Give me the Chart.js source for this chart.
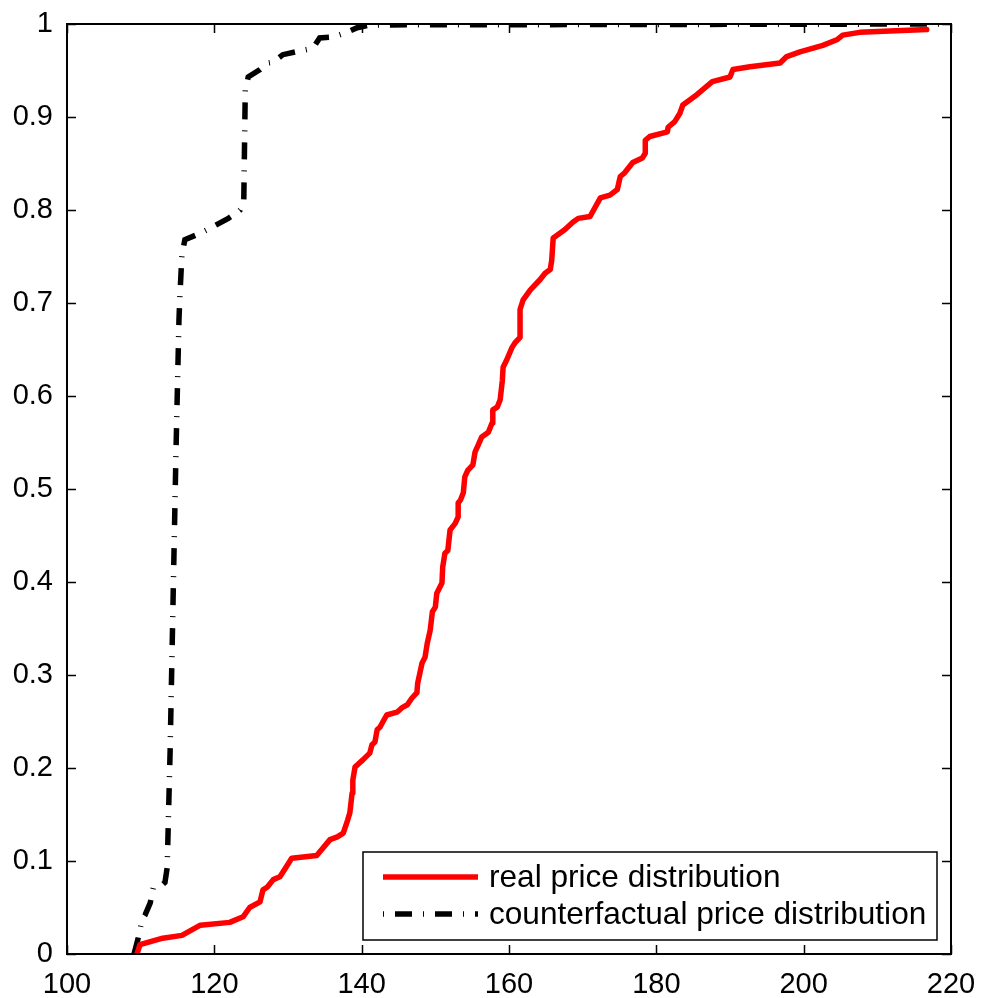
<!DOCTYPE html>
<html>
<head>
<meta charset="utf-8">
<script src="https://cdn.jsdelivr.net/npm/chart.js@4.4.0/dist/chart.umd.min.js"></script>
<style>
html, body { margin: 0; padding: 0; background: #fff; }
#wrap { width: 982px; height: 998px; }
</style>
</head>
<body>
<div id="wrap"><canvas id="cdfChart" width="982" height="998"></canvas></div>
<script>
// real price CDF
const realX = [
    109.5, 109.9, 113.0, 115.6, 118.1, 122.1, 123.9, 124.8, 126.2, 126.6,
    127.2, 128.0, 128.9, 129.3, 130.5, 133.9, 135.7, 136.7, 137.5, 138.1,
    138.4, 138.7, 138.8, 139.1, 140.2, 141.1, 141.4, 141.8, 142.1, 142.5,
    142.9, 143.4, 144.8, 145.5, 146.2, 146.8, 147.5, 147.6, 148.2, 148.6,
    148.9, 149.3, 149.6, 150.0, 150.2, 150.9, 151.0, 151.3, 151.7, 152.0,
    152.7, 153.1, 153.1, 153.4, 153.8, 154.0, 154.4, 155.1, 155.4, 155.8,
    156.3, 157.2, 157.7, 157.8, 158.4, 158.8, 159.1, 159.2, 159.7, 160.4,
    160.8, 161.5, 161.5, 161.9, 162.9, 164.2, 164.9, 165.6, 165.8, 166.0,
    166.9, 167.6, 168.7, 169.4, 171.0, 172.4, 173.7, 174.7, 175.1, 175.7,
    176.8, 178.1, 178.5, 178.5, 179.1, 181.5, 181.6, 182.5, 183.2, 183.6,
    185.5, 187.6, 190.0, 190.4, 192.7, 196.8, 197.7, 199.5, 202.6, 204.5,
    205.3, 207.6, 216.7
];
const realY = [
    0.000, 0.010, 0.017, 0.020, 0.031, 0.034, 0.040, 0.050, 0.056, 0.069,
    0.072, 0.080, 0.083, 0.088, 0.103, 0.106, 0.123, 0.126, 0.130, 0.144,
    0.152, 0.173, 0.187, 0.201, 0.209, 0.216, 0.225, 0.228, 0.241, 0.244,
    0.250, 0.257, 0.260, 0.265, 0.268, 0.275, 0.281, 0.291, 0.313, 0.319,
    0.334, 0.348, 0.368, 0.373, 0.388, 0.399, 0.416, 0.431, 0.434, 0.456,
    0.463, 0.470, 0.485, 0.488, 0.496, 0.513, 0.520, 0.526, 0.540, 0.547,
    0.556, 0.561, 0.571, 0.585, 0.588, 0.596, 0.617, 0.631, 0.639, 0.652,
    0.657, 0.663, 0.693, 0.703, 0.714, 0.725, 0.732, 0.736, 0.746, 0.770,
    0.775, 0.779, 0.787, 0.791, 0.793, 0.813, 0.816, 0.822, 0.836, 0.840,
    0.851, 0.856, 0.861, 0.875, 0.879, 0.884, 0.889, 0.895, 0.904, 0.913,
    0.924, 0.938, 0.943, 0.951, 0.954, 0.958, 0.965, 0.970, 0.977, 0.983,
    0.988, 0.991, 0.994
];

// counterfactual price CDF
const cfX = [
    109.1, 109.6, 110.2, 110.6, 111.3, 111.7, 112.9, 113.3, 113.6, 114.0,
    114.4, 114.8, 115.2, 115.3, 115.6, 116.0, 118.1, 119.8, 121.9, 123.5,
    124.0, 124.2, 124.6, 126.2, 127.2, 128.0, 129.3, 131.0, 133.4, 134.3,
    136.1, 138.0, 139.4, 141.1, 219.5
];
const cfY = [
    0.000, 0.015, 0.037, 0.042, 0.055, 0.071, 0.074, 0.077, 0.093, 0.219,
    0.381, 0.542, 0.682, 0.703, 0.752, 0.768, 0.775, 0.782, 0.791, 0.800,
    0.811, 0.929, 0.943, 0.951, 0.958, 0.959, 0.967, 0.970, 0.974, 0.985,
    0.986, 0.991, 0.996, 0.999, 1.000
];

const seriesLabels = ['real price distribution', 'counterfactual price distribution'];
const xTicks = [100, 120, 140, 160, 180, 200, 220];
const yTicks = [0, 0.1, 0.2, 0.3, 0.4, 0.5, 0.6, 0.7, 0.8, 0.9, 1];

const FONT = '"Liberation Sans", Arial, sans-serif';
const CF_DASH = [17, 11, 1, 11];

const toPoints = (xs, ys) => xs.map((x, i) => ({ x: x, y: ys[i] }));

// MATLAB style box with inward ticks on all four sides
const framePlugin = {
    id: 'frame',
    afterDatasetsDraw(chart) {
        const { ctx, chartArea: a, scales } = chart;
        const len = 9;
        ctx.save();
        ctx.strokeStyle = '#000';
        ctx.lineWidth = 1.5;
        ctx.beginPath();
        xTicks.forEach(v => {
            const px = Math.round(scales.x.getPixelForValue(v)) + 0.5;
            ctx.moveTo(px, a.bottom); ctx.lineTo(px, a.bottom - len);
            ctx.moveTo(px, a.top); ctx.lineTo(px, a.top + len);
        });
        yTicks.forEach(v => {
            const py = Math.round(scales.y.getPixelForValue(v)) + 0.5;
            ctx.moveTo(a.left, py); ctx.lineTo(a.left + len, py);
            ctx.moveTo(a.right, py); ctx.lineTo(a.right - len, py);
        });
        ctx.stroke();
        ctx.lineWidth = 2;
        ctx.strokeRect(a.left, a.top, a.right - a.left, a.bottom - a.top);
        ctx.restore();
    }
};

// legend box in the lower right corner
const legendPlugin = {
    id: 'boxLegend',
    afterDraw(chart) {
        const ctx = chart.ctx;
        const box = { x: 363, y: 852, w: 574, h: 88 };
        ctx.save();
        ctx.fillStyle = '#fff';
        ctx.fillRect(box.x, box.y, box.w, box.h);
        ctx.strokeStyle = '#000';
        ctx.lineWidth = 1.5;
        ctx.strokeRect(box.x, box.y, box.w, box.h);
        ctx.font = '31.6px ' + FONT;
        ctx.textBaseline = 'middle';
        ctx.fillStyle = '#000';
        chart.data.datasets.forEach((ds, i) => {
            const y = box.y + 25 + i * 37;
            ctx.beginPath();
            ctx.strokeStyle = ds.borderColor;
            ctx.lineWidth = ds.borderWidth;
            ctx.lineCap = 'butt';
            ctx.setLineDash(ds.borderDash || []);
            ctx.lineDashOffset = ds.borderDash ? 28 : 0;
            ctx.moveTo(383, y);
            ctx.lineTo(478, y);
            ctx.stroke();
            ctx.setLineDash([]);
            ctx.fillText(ds.label, 489, y + 1);
        });
        ctx.restore();
    }
};

new Chart(document.getElementById('cdfChart').getContext('2d'), {
    type: 'scatter',
    data: {
        datasets: [
            {
                label: seriesLabels[0],
                data: toPoints(realX, realY),
                showLine: true,
                borderColor: '#ff0000',
                borderWidth: 5.5,
                borderJoinStyle: 'round',
                borderCapStyle: 'round',
                pointRadius: 0,
                tension: 0
            },
            {
                label: seriesLabels[1],
                data: toPoints(cfX, cfY),
                showLine: true,
                borderColor: '#000000',
                borderWidth: 5.5,
                borderDash: CF_DASH,
                borderCapStyle: 'butt',
                pointRadius: 0,
                tension: 0
            }
        ]
    },
    options: {
        responsive: false,
        animation: false,
        devicePixelRatio: 1,
        layout: { padding: { top: 24, right: 31, left: 0, bottom: 0 } },
        plugins: { legend: { display: false }, tooltip: { enabled: false } },
        scales: {
            x: {
                type: 'linear',
                min: 100,
                max: 220,
                afterBuildTicks: s => { s.ticks = xTicks.map(v => ({ value: v })); },
                afterFit: s => { s.height = 44; },
                grid: { display: false },
                border: { display: false },
                ticks: { color: '#000', font: { family: FONT, size: 29 }, padding: 6, maxRotation: 0 }
            },
            y: {
                type: 'linear',
                min: 0,
                max: 1,
                afterBuildTicks: s => { s.ticks = yTicks.map(v => ({ value: v })); },
                afterFit: s => { s.width = 67; },
                grid: { display: false },
                border: { display: false },
                ticks: {
                    color: '#000',
                    font: { family: FONT, size: 29 },
                    padding: 6,
                    callback: v => String(Math.round(v * 10) / 10)
                }
            }
        }
    },
    plugins: [framePlugin, legendPlugin]
});
</script>
</body>
</html>
